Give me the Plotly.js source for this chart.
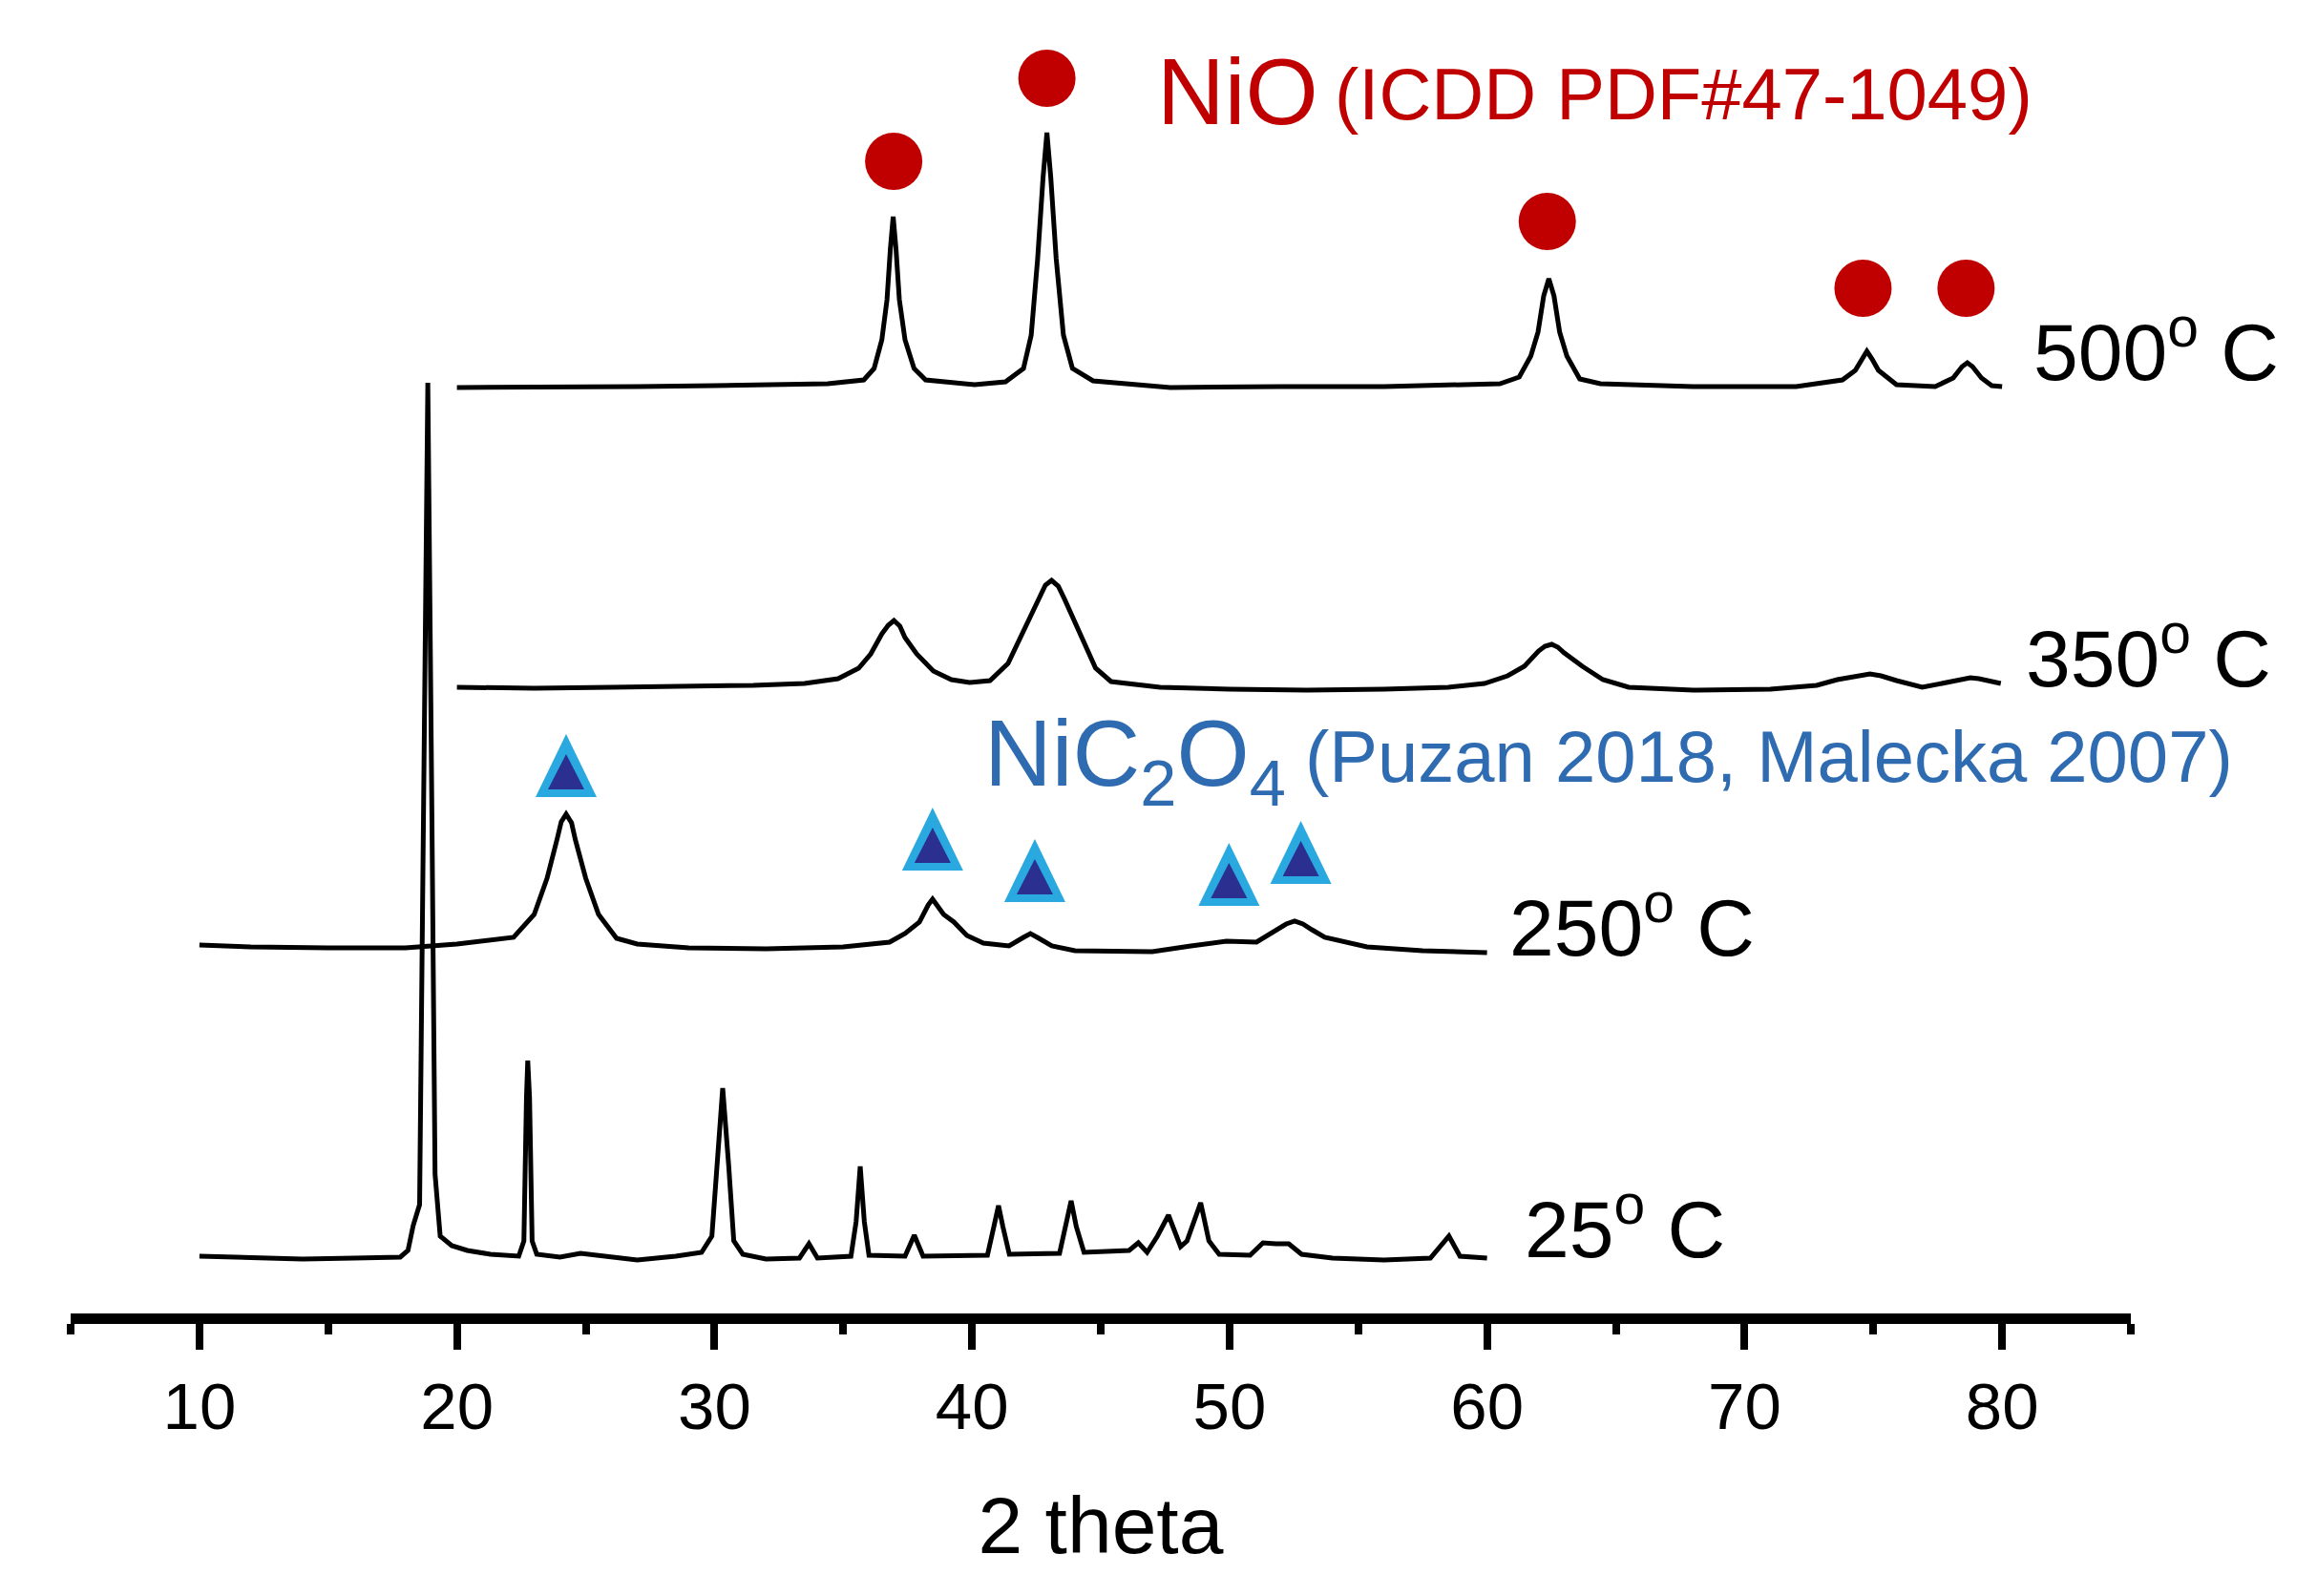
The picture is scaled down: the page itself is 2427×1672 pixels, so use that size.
<!DOCTYPE html>
<html>
<head>
<meta charset="utf-8">
<script src="https://cdn.plot.ly/plotly-3.0.1.min.js"></script>
<style>
  html, body { margin: 0; padding: 0; background: #ffffff; }
  #chart { width: 2427px; height: 1672px; }
</style>
</head>
<body>
<div id="chart"></div>
<script>
// ---------- data (2 theta in degrees, intensity in arbitrary stacked units) ----------
const x25 = [10, 12, 14, 16, 17.8, 18.1, 18.3, 18.55, 18.7, 18.87, 19.03, 19.15, 19.35, 19.8, 20.4, 21.3, 22.4, 22.6, 22.7, 22.75, 22.82, 22.92, 23.1, 24.0, 24.8, 25.6, 27, 28.5, 29.5, 29.9, 30.1, 30.32, 30.55, 30.75, 31.1, 32, 33.3, 33.67, 34.0, 35.3, 35.5, 35.66, 35.82, 36.0, 37.4, 37.76, 38.1, 40.6, 40.85, 41.03, 41.2, 41.45, 43.4, 43.65, 43.85, 44.05, 44.35, 46.1, 46.46, 46.8, 47.2, 47.63, 48.1, 48.35, 48.88, 49.2, 49.6, 50.8, 51.3, 51.8, 52.3, 52.8, 54, 56, 57.8, 58.52, 58.95, 60];
const y25 = [60, 58, 57, 58, 59, 66, 92, 114, 516, 975, 516, 146, 81, 71, 66, 62, 60, 76, 226, 265, 226, 76, 62, 59, 63, 60, 56, 60, 64, 81, 156, 236, 156, 76, 62, 57, 58, 73, 58, 60, 96, 154, 96, 61, 60, 82, 60, 61, 91, 113, 91, 62, 63, 91, 118, 91, 64, 66, 74, 64, 81, 103, 70, 76, 116, 76, 62, 61, 74, 73, 73, 62, 58, 56, 58, 81, 60, 58];

const x250 = [10, 12, 15, 18, 20, 21.3, 22.2, 23.0, 23.5, 23.9, 24.05, 24.24, 24.45, 24.6, 25.0, 25.5, 26.2, 27, 29, 32, 35, 36.8, 37.4, 37.96, 38.3, 38.47, 38.65, 38.9, 39.3, 39.8, 40.44, 41.44, 42.0, 42.27, 42.6, 43.1, 44, 47, 48.5, 49.88, 51.05, 51.7, 52.2, 52.53, 52.85, 53.2, 53.7, 55.34, 57.5, 60];
const y250 = [386, 384, 383, 383, 387, 391, 394, 418, 456, 498, 515, 523, 514, 496, 456, 418, 393, 387, 383, 382, 384, 389, 398, 410, 428, 434, 428, 418, 410, 396, 388, 385, 394, 398, 393, 385, 380, 379, 385, 390, 389, 399, 408, 411, 408, 402, 394, 384, 380, 378];

const x350 = [20, 23, 26, 29, 31.5, 33.5, 34.8, 35.6, 36.07, 36.5, 36.75, 36.97, 37.2, 37.4, 37.85, 38.5, 39.2, 39.9, 40.7, 41.4, 41.97, 42.6, 42.85, 43.09, 43.35, 43.6, 44.15, 44.8, 45.4, 47.3, 50, 53, 56, 58.5, 59.9, 60.8, 61.45, 62.0, 62.25, 62.51, 62.75, 63.0, 63.7, 64.5, 65.5, 68, 71, 72.8, 73.6, 74.5, 74.87, 75.3, 75.9, 76.9, 77.9, 78.5, 78.77, 79.1, 79.4, 79.95];
const y350 = [656, 655, 656, 657, 658, 660, 665, 676, 691, 712, 721, 726, 720, 708, 691, 673, 664, 661, 663, 681, 714, 751, 763, 768, 762, 748, 714, 676, 662, 656, 654, 653, 654, 656, 660, 668, 678, 694, 699, 701, 698, 692, 678, 664, 656, 653, 654, 658, 664, 669, 670, 668, 663, 656, 661, 665, 666, 665, 663, 660];

const x500 = [20, 23, 27, 30, 34.4, 35.8, 36.2, 36.5, 36.7, 36.83, 36.94, 37.05, 37.18, 37.4, 37.75, 38.2, 40.1, 41.3, 42.0, 42.3, 42.55, 42.76, 42.91, 43.06, 43.27, 43.55, 43.9, 44.7, 47.7, 52, 56, 60.5, 61.25, 61.7, 61.98, 62.2, 62.4, 62.6, 62.82, 63.1, 63.6, 64.4, 68, 72, 73.8, 74.3, 74.55, 74.75, 74.95, 75.2, 75.9, 77.4, 78.1, 78.45, 78.65, 78.85, 79.2, 79.6, 80];
const y500 = [970, 970, 971, 972, 974, 978, 990, 1020, 1062, 1115, 1149, 1115, 1062, 1020, 990, 978, 973, 976, 990, 1025, 1105, 1190, 1237, 1190, 1105, 1025, 990, 977, 970, 971, 971, 974, 981, 1003, 1028, 1066, 1084, 1066, 1028, 1003, 979, 974, 971, 971, 978, 988, 1000, 1008, 1000, 988, 973, 971, 980, 992, 996, 992, 980, 972, 971];

// phase markers
const nioMarkX = [36.96, 42.91, 62.34, 74.6, 78.6];
const nioMarkY = [1207, 1294, 1144, 1074, 1074];
const oxMarkX = [24.24, 38.47, 42.44, 49.98, 52.77];
const oxMarkY = [574, 497, 464, 460, 483];

const tickVals = [10, 20, 30, 40, 50, 60, 70, 80];
const tickText = ['10', '20', '30', '40', '50', '60', '70', '80'];

// ---------- traces ----------
const lineStyle = { color: '#000000', width: 5 };
const traces = [
  { x: x25, y: y25, mode: 'lines', line: lineStyle, hoverinfo: 'skip', name: '25 C' },
  { x: x250, y: y250, mode: 'lines', line: lineStyle, hoverinfo: 'skip', name: '250 C' },
  { x: x350, y: y350, mode: 'lines', line: lineStyle, hoverinfo: 'skip', name: '350 C' },
  { x: x500, y: y500, mode: 'lines', line: lineStyle, hoverinfo: 'skip', name: '500 C' },
  { x: nioMarkX, y: nioMarkY, mode: 'markers', hoverinfo: 'skip', name: 'NiO',
    marker: { symbol: 'circle', size: 60, color: '#C00000', line: { width: 0 } } }
];

// triangles as pixel-sized shapes anchored at data positions
const shapes = [];
oxMarkX.forEach(function (xv, i) {
  const yv = oxMarkY[i];
  shapes.push({ type: 'path', xref: 'x', yref: 'y', xsizemode: 'pixel', ysizemode: 'pixel',
    xanchor: xv, yanchor: yv, path: 'M -32 -33 L 32 -33 L 0 33 Z',
    fillcolor: '#29A9E0', line: { width: 0 } });
  shapes.push({ type: 'path', xref: 'x', yref: 'y', xsizemode: 'pixel', ysizemode: 'pixel',
    xanchor: xv, yanchor: yv, path: 'M -19 -25 L 19 -25 L 0 12 Z',
    fillcolor: '#2B2F8F', line: { width: 0 } });
});

const FONT = 'Arial, "Liberation Sans", Helvetica, sans-serif';
const red = '#C00000';
const blue = '#2F6BB0';

function ann(text, x, y, size, color) {
  return { text: text, x: x, y: y, xref: 'x', yref: 'y', xanchor: 'left', yanchor: 'middle',
    showarrow: false, font: { family: FONT, size: size, color: color } };
}

const annotations = [
  ann('500<sup>o</sup> C', 81.15, 1013, 84, '#000000'),
  ann('350<sup>o</sup> C', 80.85, 692, 84, '#000000'),
  ann('250<sup>o</sup> C', 60.8, 410, 84, '#000000'),
  ann('25<sup>o</sup> C', 61.4, 94, 84, '#000000'),
  ann('NiO', 47.1, 1280, 98, red),
  ann('(ICDD PDF#47-1049)', 54.0, 1278, 76, red),
  ann('NiC<sub>2</sub>O<sub>4</sub>', 40.4, 580, 98, blue),
  ann('(Puzan 2018, Malecka 2007)', 52.85, 584, 76, blue)
];

const layout = {
  width: 2427, height: 1672,
  margin: { l: 74, r: 195, t: 0, b: 296, pad: 0 },
  paper_bgcolor: '#ffffff', plot_bgcolor: '#ffffff',
  showlegend: false,
  font: { family: FONT, color: '#000000' },
  xaxis: {
    range: [5, 85], showgrid: false, zeroline: false,
    showline: true, linecolor: '#000000', linewidth: 11,
    ticks: 'outside', ticklen: 27, tickwidth: 8, tickcolor: '#000000',
    tickvals: tickVals, ticktext: tickText,
    tickfont: { family: FONT, size: 69, color: '#000000' },
    minor: { dtick: 5, tick0: 5, ticks: 'outside', ticklen: 11, tickwidth: 8, tickcolor: '#000000', showgrid: false },
    title: { text: '2 theta', font: { family: FONT, size: 84, color: '#000000' }, standoff: 62 },
    fixedrange: true
  },
  yaxis: { range: [0, 1376], visible: false, fixedrange: true },
  shapes: shapes,
  annotations: annotations
};

Plotly.newPlot('chart', traces, layout, { displayModeBar: false, staticPlot: true });
</script>
</body>
</html>
